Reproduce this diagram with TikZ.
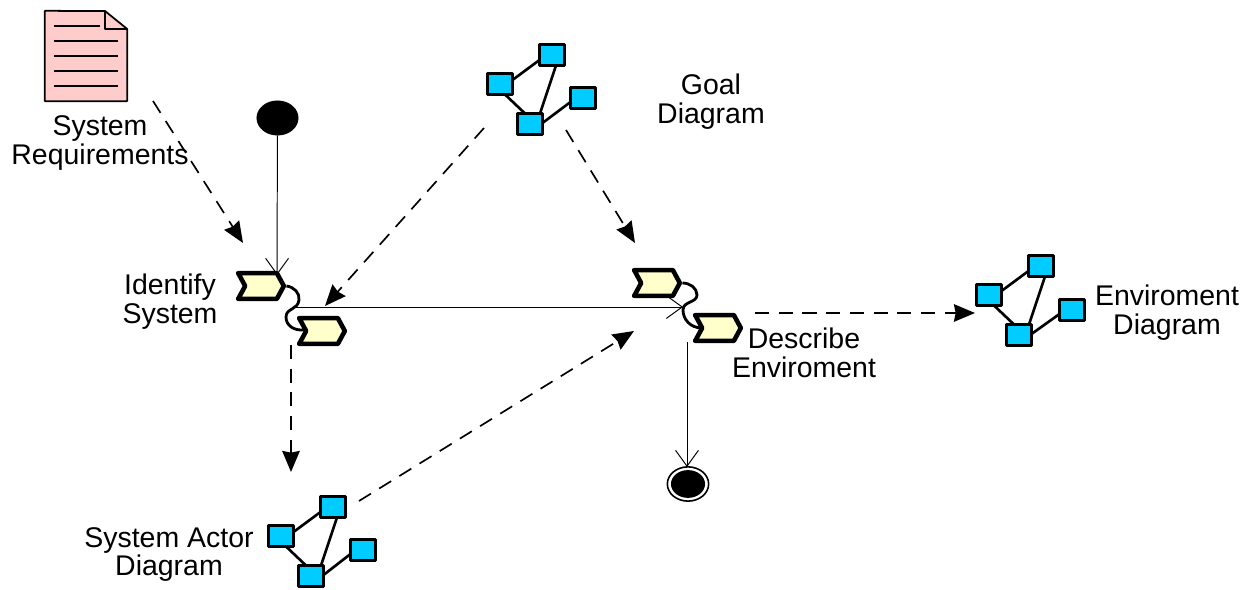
\documentclass[tikz,border=0pt]{standalone}
\usepackage{fontspec}
\setmainfont{Liberation Sans}
\usetikzlibrary{arrows.meta,shapes.symbols,shapes.geometric,calc}

\definecolor{docpink}{HTML}{FFCCCC}
\definecolor{taskyellow}{HTML}{FFFFCC}
\definecolor{boxblue}{HTML}{00CCFF}

\begin{document}
\begin{tikzpicture}[x=0.02cm,y=-0.02cm,line join=round]

   \tikzstyle{box}=[draw,fill=boxblue,line width=1.5pt,inner sep=0pt,minimum width=14.2pt,minimum height=11.9pt]
   \tikzstyle{link}=[line width=1.5pt]
   \tikzstyle{task}=[draw,fill=taskyellow,line width=2.6pt,inner sep=0pt,signal,signal to=east,signal from=west,signal pointer angle=123,minimum width=26pt,minimum height=14.7pt]
   \tikzstyle{curl}=[line width=1.6pt]
   \tikzstyle{flow}=[line width=0.55pt,-{Straight Barb[length=9pt,width=13pt,line width=0.55pt]}]
   \tikzstyle{dep}=[line width=0.95pt,dash pattern=on 8pt off 5.5pt,-{Stealth[length=12pt,width=10pt,inset=1pt]}]
   \tikzstyle{lbl}=[inner sep=0pt,align=center,font=\fontsize{16.2}{16.3}\selectfont]

   \useasboundingbox (0,0) rectangle (1255,590);

   % requirements document
   \node[inner sep=0pt,minimum width=46.5pt,minimum height=51pt] (req) at (86,56) {};
   \draw[fill=docpink,line width=1pt] (req.north west) -- (105,11) -- (req.east |- 0,29) -- (req.south east) -- (req.south west) -- cycle;
   \draw[line width=1pt] (105,11) -- (105,29) -- (req.east |- 0,29);
   \draw[line width=0.7pt] (54,26) -- (100,26);
   \draw[line width=0.7pt] (54,41) -- (118,41);
   \draw[line width=0.7pt] (54,56) -- (118,56);
   \draw[line width=0.7pt] (54,71) -- (118,71);
   \draw[line width=0.7pt] (54,86) -- (118,86);
   \node[lbl] (reqlabel) at (100,143) {System\\Requirements};

   % start and end
   \node[draw,fill=black,ellipse,inner sep=0pt,minimum width=23.5pt,minimum height=19.5pt] (start) at (277.5,118) {};
   \node[draw,ellipse,line width=0.9pt,inner sep=0pt,minimum width=23.5pt,minimum height=19.5pt] (stop) at (688,484) {};
   \node[fill=black,ellipse,inner sep=0pt,minimum width=19.4pt,minimum height=15.8pt] (stopin) at (688,484) {};

   % tasks
   \node[task] (identA) at (261,286) {};
   \node[task] (identB) at (322,331) {};
   \node[task] (descA) at (657,283) {};
   \node[task] (descB) at (718,328) {};
   \node[lbl] (identlabel) at (170,301.5) {Identify\\System};
   \node[lbl] (desclabel) at (804,353) {Describe\\Enviroment};

   \draw[curl] (identA.east) .. controls (294,287) and (300,293) .. (299,300) .. controls (298,310) and (286,308) .. (286,317) .. controls (286,325) and (293,331) .. (305,330);
   \draw[curl] (descA.east) .. controls (690,283) and (697,288) .. (697,295) .. controls (697,303) and (683,301) .. (683,310) .. controls (683,319) and (690,328) .. (702,328);

   % goal diagram
   \node[box] (goalA) at (500,84) {};
   \node[box] (goalB) at (552,55) {};
   \node[box] (goalC) at (530,124) {};
   \node[box] (goalD) at (583,98) {};
   \draw[link] ($(goalA)+(12.5,-4)$) -- ($(goalB)+(-12.5,5)$);
   \draw[link] ($(goalA)+(5,10.5)$) -- ($(goalC)+(-5,-10.5)$);
   \draw[link] ($(goalB)+(4,10.5)$) -- ($(goalC)+(10,-10.5)$);
   \draw[link] ($(goalC)+(12.5,-1)$) -- ($(goalD)+(-12.5,4)$);
   \node[lbl] (goallabel) at (711,101.5) {Goal\\Diagram};

   % enviroment diagram
   \node[box] (envA) at (989,295) {};
   \node[box] (envB) at (1041,266) {};
   \node[box] (envC) at (1019,335) {};
   \node[box] (envD) at (1072,310) {};
   \draw[link] ($(envA)+(12.5,-4)$) -- ($(envB)+(-12.5,5)$);
   \draw[link] ($(envA)+(5,10.5)$) -- ($(envC)+(-5,-10.5)$);
   \draw[link] ($(envB)+(4,10.5)$) -- ($(envC)+(10,-10.5)$);
   \draw[link] ($(envC)+(12.5,-1)$) -- ($(envD)+(-12.5,4)$);
   \node[lbl] (envlabel) at (1167,312.5) {Enviroment\\Diagram};

   % system actor diagram
   \node[box] (actA) at (281,536) {};
   \node[box] (actB) at (333,507) {};
   \node[box] (actC) at (311,576) {};
   \node[box] (actD) at (363,550) {};
   \draw[link] ($(actA)+(12.5,-4)$) -- ($(actB)+(-12.5,5)$);
   \draw[link] ($(actA)+(5,10.5)$) -- ($(actC)+(-5,-10.5)$);
   \draw[link] ($(actB)+(4,10.5)$) -- ($(actC)+(10,-10.5)$);
   \draw[link] ($(actC)+(12.5,-1)$) -- ($(actD)+(-12.5,4)$);
   \node[lbl] (actlabel) at (169,554.5) {System Actor\\Diagram};

   % free ends of the connectors
   \coordinate (reqout) at (153,101);
   \coordinate (identin) at (243,243);
   \coordinate (goalout1) at (484,128);
   \coordinate (mainin) at (325,306);
   \coordinate (goalout2) at (566,130);
   \coordinate (descin1) at (635,243);
   \coordinate (descout) at (755,313);
   \coordinate (envin) at (975,313);
   \coordinate (identout) at (291,345);
   \coordinate (actin) at (291,472);
   \coordinate (actout) at (359,501);
   \coordinate (descin2) at (634,331);
   \coordinate (startin) at (277,275);
   \coordinate (mainstart) at (295,307);
   \coordinate (mainend) at (683,307);
   \coordinate (stopout) at (687,342);
   \coordinate (stoptip) at (687,467);

   \draw[flow] (start) -- (startin);
   \draw[flow] (mainstart) -- (mainend);
   \draw[flow] (stopout) -- (stoptip);

   \draw[dep] (reqout) -- (identin);
   \draw[dep] (goalout1) -- (mainin);
   \draw[dep] (goalout2) -- (descin1);
   \draw[dep] (descout) -- (envin);
   \draw[dep] (identout) -- (actin);
   \draw[dep] (actout) -- (descin2);

\end{tikzpicture}
\end{document}
